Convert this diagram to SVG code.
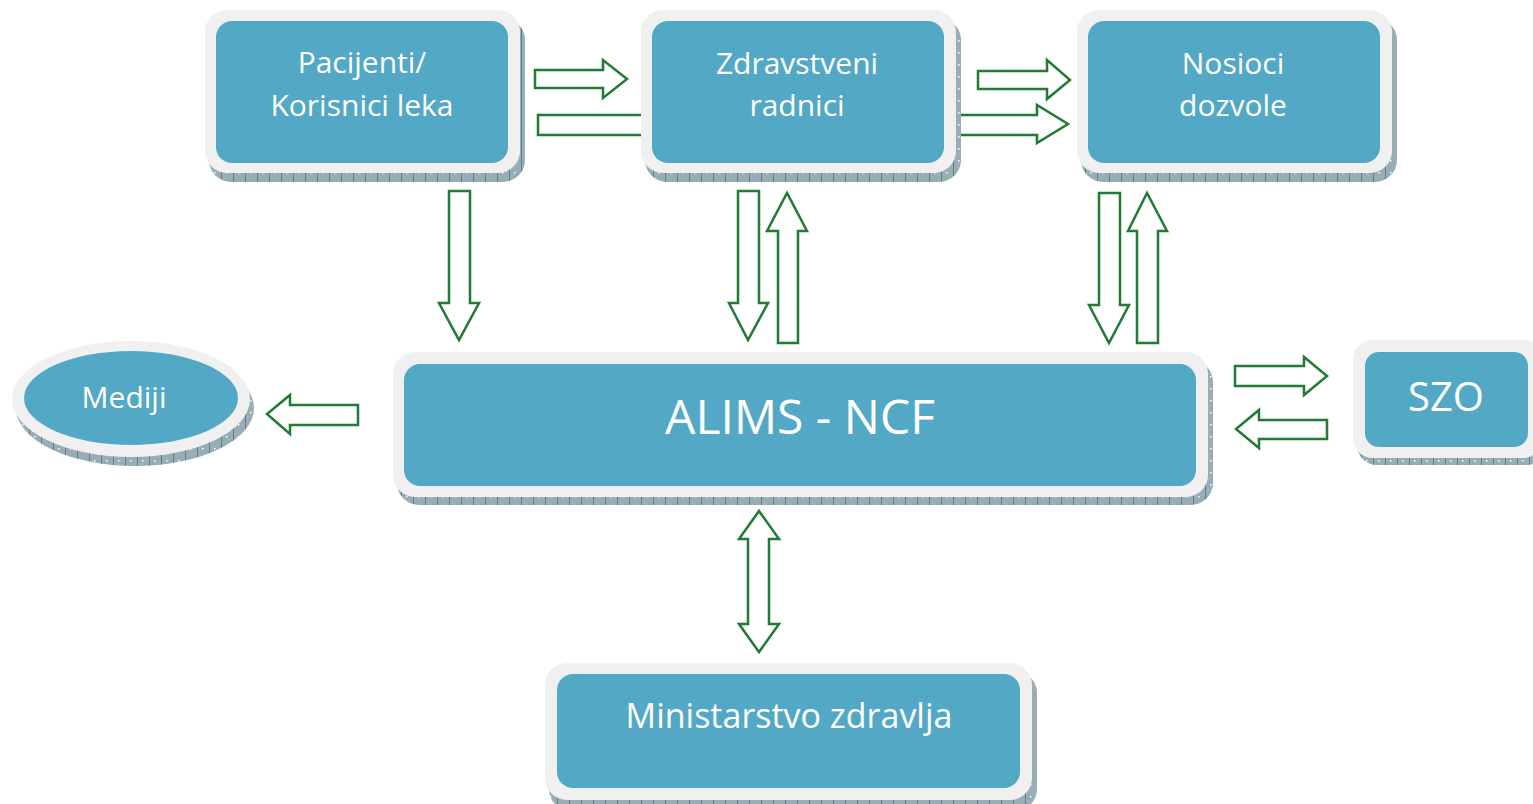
<svg xmlns="http://www.w3.org/2000/svg" width="1533" height="804" viewBox="0 0 1533 804">
<defs>
<pattern id="bev" width="12" height="12" patternUnits="userSpaceOnUse">
<rect width="12" height="12" fill="#98adb6"/>
<rect x="5" y="0" width="1" height="12" fill="#5f7d8a"/>
<rect x="10" y="4" width="1.5" height="1.5" fill="#ffffff"/>
</pattern>
</defs>
<style>
.outer{fill:#f0f0f0}
.depth{fill:url(#bev)}
.inner{fill:#53a9c5}
.t{font-family:"Open Sans","Noto Sans",sans-serif;fill:#ffffff;text-anchor:middle}
.arr{fill:#ffffff;stroke:#217a35;stroke-width:2.5;stroke-linejoin:miter}
</style>
<rect width="1533" height="804" fill="#ffffff"/>
<g id="connectors">
<path class="arr" d="M535,70 H603 V60 L627,79 L603,98 V88 H535 Z"/>
<path class="arr" d="M538,115 H650 V135 H538 Z"/>
<path class="arr" d="M978,71 H1047 V60 L1070,80 L1047,99 V89 H978 Z"/>
<path class="arr" d="M950,115 H1037 V105 L1068,124 L1037,143 V135 H950 Z"/>
<path class="arr" d="M449,191 V303 H439 L459,340 L479,303 H470 V191 Z"/>
<path class="arr" d="M738,191 V303 H729 L748,340 L768,303 H759 V191 Z"/>
<path class="arr" d="M778,343 V231 H767 L787,193 L807,231 H798 V343 Z"/>
<path class="arr" d="M1099,193 V305 H1089 L1109,343 L1129,305 H1120 V193 Z"/>
<path class="arr" d="M1137,343 V231 H1128 L1147,193 L1167,231 H1158 V343 Z"/>
<path class="arr" d="M358,405 H290 V395 L267,414 L290,434 V425 H358 Z"/>
<path class="arr" d="M1235,366 H1304 V357 L1327,376 L1304,395 V386 H1235 Z"/>
<path class="arr" d="M1327,420 H1259 V410 L1236,429 L1259,448 V439 H1327 Z"/>
<path class="arr" d="M759,511 L779,539 H769 V624 H779 L759,652 L739,624 H748 V539 H739 Z"/>
</g>
<g id="pacijenti">
<rect class="depth" x="209" y="18" width="316" height="164" rx="22"/>
<rect class="outer" x="205" y="10" width="315" height="163" rx="22"/>
<rect class="inner" x="216" y="21" width="292" height="142" rx="16"/>
<text class="t" x="362" y="73" font-size="30">Pacijenti/</text>
<text class="t" x="362" y="116" font-size="30">Korisnici leka</text>
</g>
<g id="zdravstveni">
<rect class="depth" x="645" y="18" width="316" height="164" rx="22"/>
<rect class="outer" x="641" y="10" width="315" height="163" rx="22"/>
<rect class="inner" x="652" y="21" width="292" height="142" rx="16"/>
<text class="t" x="797" y="74" font-size="30">Zdravstveni</text>
<text class="t" x="797" y="116" font-size="30">radnici</text>
</g>
<g id="nosioci">
<rect class="depth" x="1081" y="18" width="316" height="164" rx="22"/>
<rect class="outer" x="1077" y="10" width="315" height="163" rx="22"/>
<rect class="inner" x="1088" y="21" width="292" height="142" rx="16"/>
<text class="t" x="1233" y="74" font-size="30">Nosioci</text>
<text class="t" x="1233" y="116" font-size="30">dozvole</text>
</g>
<g id="alims">
<rect class="depth" x="397" y="360" width="816" height="145" rx="22"/>
<rect class="outer" x="393" y="352" width="815" height="145" rx="22"/>
<rect class="inner" x="404" y="364" width="792" height="122" rx="16"/>
<text class="t" x="800" y="434" font-size="48">ALIMS - NCF</text>
</g>
<g id="mediji">
<ellipse class="depth" cx="135" cy="408" rx="119" ry="58"/>
<ellipse class="outer" cx="131" cy="399" rx="119" ry="58"/>
<ellipse class="inner" cx="131" cy="398" rx="107" ry="47"/>
<text class="t" x="124" y="408" font-size="30">Mediji</text>
</g>
<g id="szo">
<rect class="depth" x="1357" y="347" width="190" height="118" rx="20"/>
<rect class="outer" x="1353" y="340" width="190" height="118" rx="20"/>
<rect class="inner" x="1365" y="352" width="163" height="95" rx="14"/>
<text class="t" x="1446" y="411" font-size="40">SZO</text>
</g>
<g id="ministarstvo">
<rect class="depth" x="549" y="671" width="488" height="140" rx="22"/>
<rect class="outer" x="545" y="663" width="487" height="137" rx="22"/>
<rect class="inner" x="557" y="674" width="463" height="114" rx="16"/>
<text class="t" x="789" y="728" font-size="34">Ministarstvo zdravlja</text>
</g>
</svg>
